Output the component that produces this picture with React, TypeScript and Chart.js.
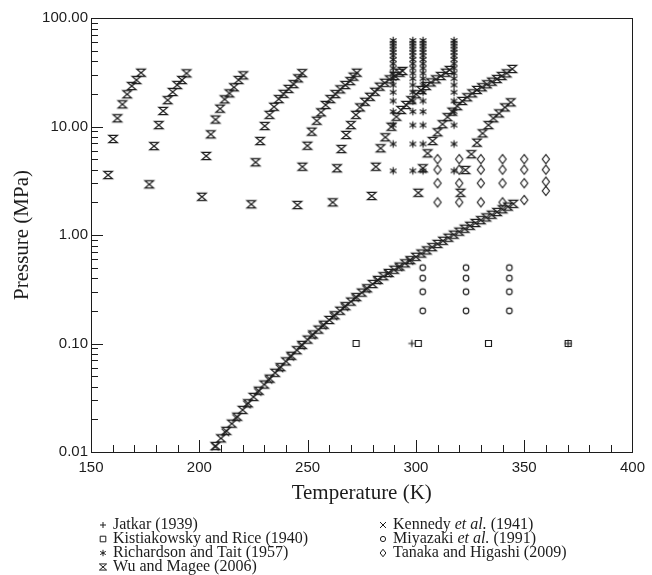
import React, { useEffect, useRef } from "react";
import { Chart, registerables } from "chart.js";

Chart.register(...registerables);

const INK = "#1c1c1c";

// ---- axis ticks ----
const xTickValues = [150, 200, 250, 300, 350, 400];
const xTickLabels = ["150", "200", "250", "300", "350", "400"];
const yTickValues = [0.01, 0.1, 1, 10, 100];
const yTickLabels = ["0.01", "0.10", "1.00", "10.00", "100.00"];

// ---- Jatkar (1939) ----
const jatkarT = [298.1, 370.3];
const jatkarP = [0.1, 0.1];

// ---- Kistiakowsky and Rice (1940) ----
const kistiakowskyT = [272.4, 301.1, 333.5, 370.3];
const kistiakowskyP = [0.1, 0.1, 0.1, 0.1];

// ---- Richardson and Tait (1957): isotherms ----
const richardsonTemps = [289.5, 298.6, 303.3, 317.6];
const richardsonPressures = [3.9, 6.9, 10.3, 13.7, 17.2, 20.7, 24.1, 27.6, 31.0, 34.5, 37.9, 41.4, 44.8, 48.3, 51.7, 55.2, 58.6, 62.1];

// ---- Kennedy et al. (1941): vapour pressure ----
const kennedyT = [207.3, 212, 217, 222, 227, 232, 237, 242, 247, 252, 257, 262, 267, 272, 277, 282, 287, 292, 297];
const kennedyP = [0.0112, 0.0152, 0.02055, 0.0274, 0.0358, 0.0463, 0.0592, 0.0754, 0.095, 0.1186, 0.1459, 0.1785, 0.2167, 0.2628, 0.317, 0.379, 0.4407, 0.505, 0.5784];

// ---- Miyazaki et al. (1991) ----
const miyazakiTemps = [303.15, 323.15, 343.15];
const miyazakiPressures = [0.2, 0.3, 0.4, 0.5];

// ---- Tanaka and Higashi (2009) ----
const tanakaT = [310, 310, 310, 310, 320, 320, 320, 320, 330, 330, 330, 330, 340, 340, 340, 340, 350, 350, 350, 350, 360, 360, 360, 360];
const tanakaP = [2, 3, 4, 5, 2, 3, 4, 5, 2, 3, 4, 5, 2, 3, 4, 5, 2.1, 3, 4, 5, 2.55, 3.1, 4, 5];

// ---- Wu and Magee (2006): vapour pressure ----
const wuSatT = [207.5, 210, 212.5, 215, 217.5, 220, 222.5, 225, 227.5, 230, 232.5, 235, 237.5, 240, 242.5, 245, 247.5, 250, 252.5, 255, 257.5, 260, 262.5, 265, 267.5, 270, 272.5, 275, 277.5, 280, 282.5, 285, 287.5, 290, 292.5, 295, 297.5, 300, 302.5, 305, 307.5, 310, 312.5, 315, 317.5, 320, 322.5, 325, 327.5, 330, 332.5, 335, 337.5, 340, 342.5, 345];
const wuSatP = [0.01135, 0.01337, 0.01567, 0.01824, 0.02113, 0.02443, 0.02812, 0.03221, 0.03673, 0.04188, 0.04742, 0.0537, 0.06053, 0.06839, 0.07709, 0.0867, 0.09705, 0.1086, 0.1211, 0.1343, 0.1489, 0.1648, 0.182, 0.2004, 0.2208, 0.2432, 0.2679, 0.2944, 0.3228, 0.3532, 0.3855, 0.4169, 0.4467, 0.4786, 0.5117, 0.5483, 0.5861, 0.6295, 0.6745, 0.7211, 0.7727, 0.8279, 0.8851, 0.9441, 1.007, 1.074, 1.143, 1.216, 1.291, 1.371, 1.452, 1.538, 1.629, 1.726, 1.828, 1.936];

// ---- Wu and Magee (2006): isochores, [T, P] ----
const iso1 = [[157.9, 3.57], [160.2, 7.67], [162.2, 11.9], [164.5, 16.0], [166.7, 19.8], [168.8, 23.6], [171.0, 26.8], [173.1, 31.3]];
const iso2 = [[176.9, 2.93], [179.1, 6.6], [181.3, 10.3], [183.3, 13.9], [185.4, 17.5], [187.7, 20.8], [189.8, 24.1], [192.0, 26.8], [194.1, 30.9]];
const iso3 = [[201.2, 2.25], [203.2, 5.35], [205.3, 8.47], [207.5, 11.6], [209.6, 14.6], [211.7, 17.8], [213.9, 20.2], [216.0, 23.0], [218.1, 26.8], [220.3, 29.6]];
const iso4 = [[224.0, 1.92], [226.0, 4.68], [228.1, 7.35], [230.2, 10.1], [232.4, 12.8], [234.5, 15.2], [236.7, 17.9], [238.9, 20.0], [241.2, 22.2], [243.5, 24.6], [245.6, 27.8], [247.5, 31.0]];
const iso5 = [[245.3, 1.89], [247.6, 4.26], [249.9, 6.65], [251.9, 8.96], [254.2, 11.3], [256.2, 13.5], [258.3, 15.8], [260.5, 17.9], [262.8, 19.9], [265.1, 22.0], [267.4, 24.1], [269.7, 26.2], [271.2, 28.8], [272.7, 31.3]];
const iso6 = [[261.6, 2.0], [263.6, 4.12], [265.6, 6.2], [267.8, 8.35], [270.0, 10.3], [272.3, 12.8], [274.2, 15.0], [276.5, 16.9], [278.8, 18.8], [281.1, 20.9], [283.3, 23.3], [285.6, 25.3], [287.9, 27.2], [290.2, 29.2], [292.5, 31.3], [293.8, 32.5]];
const iso7 = [[279.6, 2.29], [281.5, 4.26], [283.7, 6.3], [285.9, 7.95], [288.7, 9.95], [291.0, 12.3], [293.2, 14.2], [295.5, 15.8], [297.8, 17.5], [300.1, 19.8], [302.4, 21.7], [304.7, 23.6], [306.9, 25.5], [309.2, 27.2], [311.5, 29.2], [313.8, 31.3], [315.6, 33.2]];
const iso8 = [[301.1, 2.45], [303.2, 4.12], [305.4, 5.66], [307.7, 7.35], [310.0, 8.85], [312.3, 10.5], [314.6, 12.2], [316.8, 13.7], [319.1, 15.4], [321.4, 17.2], [323.7, 18.6], [326.0, 20.2], [328.2, 21.7], [330.5, 23.0], [332.8, 24.5], [335.1, 25.9], [337.4, 27.4], [339.6, 29.2], [341.9, 30.9], [344.5, 33.9]];
const iso9 = [[320.6, 2.45], [322.9, 3.97], [325.6, 5.55], [328.2, 7.1], [330.8, 8.65], [333.5, 10.3], [335.8, 11.9], [338.4, 13.2], [341.1, 15.0], [343.8, 16.7]];

// ---- legend ----
type Seg = [string, boolean];
const legendLeft: { marker: string; text: Seg[] }[] = [
  { marker: "plus", text: [["Jatkar (1939)", false]] },
  { marker: "square", text: [["Kistiakowsky and Rice (1940)", false]] },
  { marker: "star", text: [["Richardson and Tait (1957)", false]] },
  { marker: "hourglass", text: [["Wu and Magee (2006)", false]] },
];
const legendRight: { marker: string; text: Seg[] }[] = [
  { marker: "cross", text: [["Kennedy ", false], ["et al.", true], [" (1941)", false]] },
  { marker: "circle", text: [["Miyazaki ", false], ["et al.", true], [" (1991)", false]] },
  { marker: "diamond", text: [["Tanaka and Higashi (2009)", false]] },
];

function drawMarker(ctx: CanvasRenderingContext2D, kind: string, x: number, y: number, s: number) {
  ctx.beginPath();
  const c30 = Math.cos(Math.PI / 6), s30 = 0.5;
  switch (kind) {
    case "plus":
      ctx.moveTo(x - s, y); ctx.lineTo(x + s, y);
      ctx.moveTo(x, y - s); ctx.lineTo(x, y + s);
      break;
    case "square":
      ctx.rect(x - s, y - s, 2 * s, 2 * s);
      break;
    case "star":
      ctx.moveTo(x, y - s); ctx.lineTo(x, y + s);
      ctx.moveTo(x - s * c30, y - s * s30); ctx.lineTo(x + s * c30, y + s * s30);
      ctx.moveTo(x - s * c30, y + s * s30); ctx.lineTo(x + s * c30, y - s * s30);
      break;
    case "hourglass": {
      const h = s * 0.85;
      ctx.moveTo(x - s, y - h); ctx.lineTo(x + s, y - h);
      ctx.lineTo(x - s, y + h); ctx.lineTo(x + s, y + h);
      ctx.closePath();
      break;
    }
    case "cross":
      ctx.moveTo(x - s, y - s); ctx.lineTo(x + s, y + s);
      ctx.moveTo(x - s, y + s); ctx.lineTo(x + s, y - s);
      break;
    case "circle":
      ctx.arc(x, y, s, 0, Math.PI * 2);
      break;
    case "diamond":
      ctx.moveTo(x, y - 1.3 * s); ctx.lineTo(x + s, y);
      ctx.lineTo(x, y + 1.3 * s); ctx.lineTo(x - s, y);
      ctx.closePath();
      break;
  }
  ctx.stroke();
}

function makeMarkerCanvas(kind: string, s: number, lw = 1.15) {
  const size = Math.ceil(2 * s * 1.35) + 4;
  const c = document.createElement("canvas");
  c.width = size; c.height = size;
  const ctx = c.getContext("2d")!;
  ctx.strokeStyle = INK;
  ctx.lineWidth = lw;
  drawMarker(ctx, kind, size / 2, size / 2, s);
  return c;
}

function pairs(t: number[], p: number[]) {
  return t.map((v, i) => ({ x: v, y: p[i] }));
}

export default function App() {
  const ref = useRef<HTMLCanvasElement | null>(null);

  useEffect(() => {
    document.body.style.margin = "0";
    const canvas = ref.current!;
    const mk = {
      plus: makeMarkerCanvas("plus", 3.5),
      square: makeMarkerCanvas("square", 3),
      star: makeMarkerCanvas("star", 3.8),
      hourglass: makeMarkerCanvas("hourglass", 4.2, 1.3),
      cross: makeMarkerCanvas("cross", 3.8),
      circle: makeMarkerCanvas("circle", 2.8),
      diamond: makeMarkerCanvas("diamond", 3.6),
    };

    const richardson: { x: number; y: number }[] = [];
    richardsonTemps.forEach((t) => richardsonPressures.forEach((p) => richardson.push({ x: t, y: p })));
    const miyazaki: { x: number; y: number }[] = [];
    miyazakiTemps.forEach((t) => miyazakiPressures.forEach((p) => miyazaki.push({ x: t, y: p })));
    const wu = [
      ...pairs(wuSatT, wuSatP),
      ...[iso1, iso2, iso3, iso4, iso5, iso6, iso7, iso8, iso9].flatMap((iso) => iso.map(([t, p]) => ({ x: t, y: p }))),
    ];

    const ds = (label: string, data: any[], style: HTMLCanvasElement) => ({
      label, data, pointStyle: style, pointRadius: 4, showLine: false,
      borderColor: INK, backgroundColor: "rgba(0,0,0,0)",
    });

    const framePlugin = {
      id: "frameTicks",
      afterDraw(chart: any) {
        const { ctx, chartArea: a, scales } = chart;
        const xs = scales.x, ys = scales.y;
        ctx.save();
        ctx.strokeStyle = INK;
        ctx.lineWidth = 1;
        ctx.beginPath();
        ys.ticks.forEach((t: any) => {
          const v = t.value;
          const e = Math.floor(Math.log10(v) + 1e-9);
          const m = v / Math.pow(10, e);
          if (Math.abs(m - Math.round(m)) > 1e-6) return;
          const y = Math.round(ys.getPixelForValue(v)) + 0.5;
          const len = Math.round(m) === 1 || Math.round(m) === 10 ? 12 : 7;
          ctx.moveTo(a.left, y); ctx.lineTo(a.left + len, y);
        });
        xs.ticks.forEach((t: any) => {
          const x = Math.round(xs.getPixelForValue(t.value)) + 0.5;
          const len = Math.round(t.value) % 50 === 0 ? 12 : 7;
          ctx.moveTo(x, a.bottom); ctx.lineTo(x, a.bottom - len);
        });
        ctx.stroke();
        ctx.strokeRect(Math.round(a.left) + 0.5, Math.round(a.top) + 0.5, Math.round(a.right - a.left), Math.round(a.bottom - a.top));

        // legend
        ctx.fillStyle = INK;
        ctx.textBaseline = "middle";
        ctx.textAlign = "left";
        const rows = [525, 539, 553, 567];
        const legendSizes: Record<string, number> = { plus: 3, square: 2.8, star: 3.2, hourglass: 3.6, cross: 3, circle: 2.6, diamond: 2.9 };
        const drawCol = (items: { marker: string; text: Seg[] }[], mx: number, tx: number) => {
          items.forEach((it, i) => {
            const y = rows[i];
            ctx.lineWidth = 1;
            drawMarker(ctx, it.marker, mx, y, legendSizes[it.marker]);
            let x = tx;
            it.text.forEach(([s, italic]) => {
              ctx.font = (italic ? "italic " : "") + '16px "Liberation Serif"';
              ctx.fillText(s, x, y);
              x += ctx.measureText(s).width;
            });
          });
        };
        drawCol(legendLeft, 103, 113);
        drawCol(legendRight, 383, 393);
        ctx.restore();
      },
    };

    const chart = new Chart(canvas, {
      type: "scatter",
      data: {
        datasets: [
          ds("Jatkar (1939)", pairs(jatkarT, jatkarP), mk.plus),
          ds("Kistiakowsky and Rice (1940)", pairs(kistiakowskyT, kistiakowskyP), mk.square),
          ds("Richardson and Tait (1957)", richardson, mk.star),
          ds("Wu and Magee (2006)", wu, mk.hourglass),
          ds("Kennedy et al. (1941)", pairs(kennedyT, kennedyP), mk.cross),
          ds("Miyazaki et al. (1991)", miyazaki, mk.circle),
          ds("Tanaka and Higashi (2009)", pairs(tanakaT, tanakaP), mk.diamond),
        ],
      },
      options: {
        responsive: false,
        animation: false,
        devicePixelRatio: 1,
        layout: { padding: { left: 0, right: 13, top: 18, bottom: 0 } },
        plugins: { legend: { display: false }, tooltip: { enabled: false } },
        scales: {
          x: {
            type: "linear",
            min: 150,
            max: 400,
            afterFit: (s: any) => { s.height = 123; },
            grid: { display: false, drawTicks: false },
            border: { display: false },
            ticks: {
              stepSize: 10,
              autoSkip: false,
              maxRotation: 0,
              padding: 7,
              color: INK,
              font: { family: '"Liberation Sans", Arial, sans-serif', size: 15 },
              callback: (v: any) => {
                const i = xTickValues.findIndex((t) => Math.abs(t - Number(v)) < 1e-6);
                return i >= 0 ? xTickLabels[i] : "";
              },
            },
            title: {
              display: true,
              text: "Temperature (K)",
              color: INK,
              font: { family: '"Liberation Serif", "Times New Roman", serif', size: 21 },
              padding: { top: 0, bottom: 69 },
            },
          },
          y: {
            type: "logarithmic",
            min: 0.01,
            max: 100,
            afterFit: (s: any) => { s.width = 91; },
            grid: { display: false, drawTicks: false },
            border: { display: false },
            ticks: {
              autoSkip: false,
              padding: 3,
              color: INK,
              font: { family: '"Liberation Sans", Arial, sans-serif', size: 15 },
              callback: (v: any) => {
                const i = yTickValues.findIndex((t) => Math.abs(t - Number(v)) / t < 1e-6);
                return i >= 0 ? yTickLabels[i] : "";
              },
            },
            title: {
              display: true,
              text: "Pressure (MPa)",
              color: INK,
              font: { family: '"Liberation Serif", "Times New Roman", serif', size: 21 },
              padding: { top: 10, bottom: 0 },
            },
          },
        },
      },
      plugins: [framePlugin],
    } as any);
    return () => chart.destroy();
  }, []);

  return (
    <div style={{ width: 652, height: 575 }}>
      <canvas ref={ref} width={652} height={575} style={{ width: 652, height: 575, display: "block" }} />
    </div>
  );
}
